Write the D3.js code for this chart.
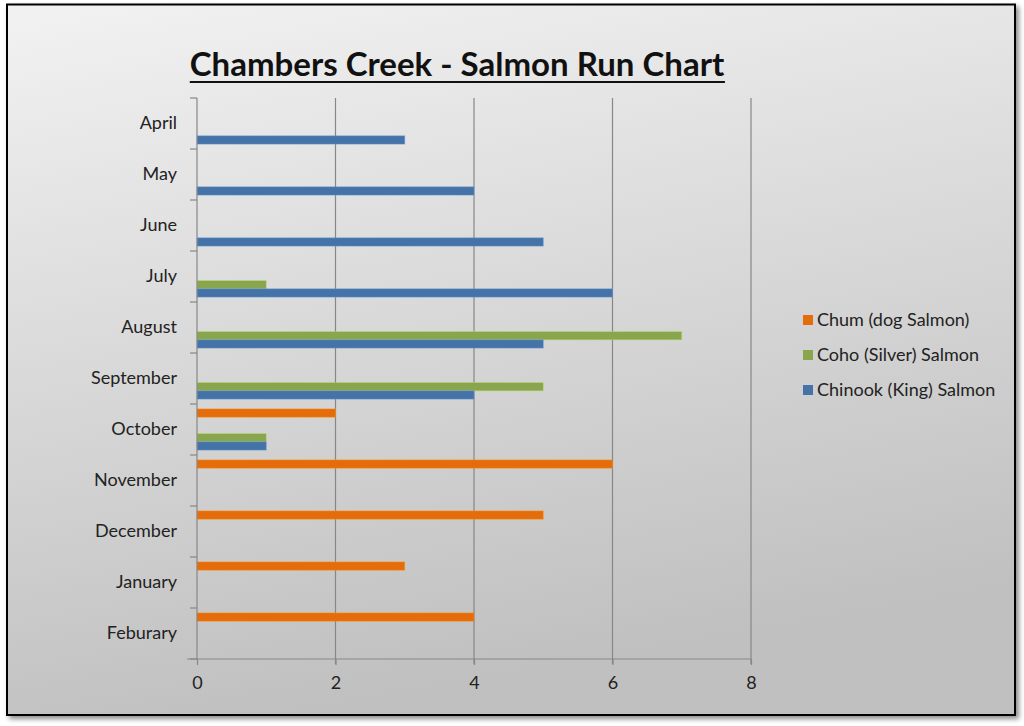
<!DOCTYPE html>
<html><head><meta charset="utf-8">
<script src="https://cdn.jsdelivr.net/npm/d3@7"></script>
<style>html,body{margin:0;padding:0;background:#fff;}svg{display:block;}</style>
</head><body>
<script>
const months = ["April","May","June","July","August","September","October","November","December","January","Feburary"];
const chinook = [3,4,5,6,5,4,1,0,0,0,0];
const coho    = [0,0,0,1,7,5,1,0,0,0,0];
const chum    = [0,0,0,0,0,0,2,6,5,3,4];
const seriesNames = ["Chum (dog Salmon)","Coho (Silver) Salmon","Chinook (King) Salmon"];
const seriesColors = ["#E46C0A","#89A54E","#4572A7"];
const slots = ["s1","s2","s3","s4","s5"]; // Excel slots, two unused series
const seriesSlots = ["s1","s4","s5"];
const xTicks = [0,2,4,6,8];

const W=1024,H=726;
const svg=d3.select("body").append("svg").attr("width",W).attr("height",H);
const defs=svg.append("defs");
const g1=defs.append("linearGradient").attr("id","bg").attr("x1",0).attr("y1",0).attr("x2",0.25).attr("y2",1);
g1.append("stop").attr("offset","0%").attr("stop-color","#f2f2f2");
g1.append("stop").attr("offset","100%").attr("stop-color","#c0c0c0");
const f=defs.append("filter").attr("id","sh").attr("x","-5%").attr("y","-5%").attr("width","110%").attr("height","110%");
f.append("feDropShadow").attr("dx",3).attr("dy",3).attr("stdDeviation",2.5).attr("flood-color","#000").attr("flood-opacity",0.45);

svg.append("rect").attr("x",7).attr("y",4.5).attr("width",1008).attr("height",710.5)
  .attr("fill","url(#bg)").attr("stroke","#000").attr("stroke-width",2).attr("filter","url(#sh)");

const font="Lato, 'Open Sans', sans-serif";
const x=d3.scaleLinear().domain([0,8]).range([197,751]);
const y=d3.scaleBand().domain(months).range([98,659]).padding(0);
const ys=d3.scaleBand().domain(slots).range([0,y.bandwidth()]).paddingOuter(0.6).paddingInner(0);

// gridlines
const grid=svg.append("g");
grid.selectAll("line").data(xTicks.slice(1)).join("line")
  .attr("x1",d=>x(d)).attr("x2",d=>x(d)).attr("y1",98).attr("y2",664)
  .attr("stroke","#878787").attr("stroke-width",1.2);

// bars
const series=[chum,coho,chinook];
series.forEach((vals,si)=>{
  svg.append("g").selectAll("rect").data(months.map((m,i)=>({m,v:vals[i]})).filter(d=>d.v>0)).join("rect")
    .attr("x",x(0)).attr("y",d=>y(d.m)+ys(seriesSlots[si]))
    .attr("width",d=>x(d.v)-x(0)).attr("height",ys.bandwidth())
    .attr("fill",seriesColors[si]).attr("stroke",d3.color(seriesColors[si]).brighter(0.8)).attr("stroke-opacity",0.6).attr("stroke-width",0.8);
});

// y axis
const yAxis=d3.axisLeft(y).tickSize(0).tickPadding(20);
const ya=svg.append("g").attr("transform","translate(197,0)").call(yAxis);
ya.select(".domain").remove();
ya.selectAll("text").attr("font-family",font).attr("font-size",18).attr("fill","#222");
const yl=svg.append("g");
yl.append("line").attr("x1",197).attr("x2",197).attr("y1",98).attr("y2",659).attr("stroke","#878787").attr("stroke-width",1.2);
yl.selectAll(".t").data(d3.range(months.length+1)).join("line").attr("class","t")
  .attr("x1",190).attr("x2",197).attr("y1",i=>98+i*y.step()).attr("y2",i=>98+i*y.step())
  .attr("stroke","#878787").attr("stroke-width",1.2);

// x axis
const xAxis=d3.axisBottom(x).tickValues(xTicks).tickSize(6).tickPadding(11).tickFormat(d3.format("d"));
const xa=svg.append("g").attr("transform","translate(0,659)").call(xAxis);
xa.select(".domain").attr("d","M187,0H751").attr("stroke","#878787").attr("stroke-width",1.2);
xa.selectAll(".tick line").attr("stroke","#878787").attr("stroke-width",1.2);
xa.selectAll("text").attr("font-family",font).attr("font-size",18).attr("fill","#222");

// title
const title=svg.append("text").attr("x",457).attr("y",76).attr("text-anchor","middle")
  .attr("font-family",font).attr("font-weight","bold").attr("font-size",33).attr("fill","#111")
  .text("Chambers Creek - Salmon Run Chart");
const bb=title.node().getBBox();
svg.append("line").attr("x1",bb.x).attr("x2",bb.x+bb.width).attr("y1",82).attr("y2",82).attr("stroke","#111").attr("stroke-width",2);

// legend
const lg=svg.append("g");
seriesNames.forEach((n,i)=>{
  const yy=320+i*35;
  lg.append("rect").attr("x",803).attr("y",yy-5).attr("width",10).attr("height",10).attr("fill",seriesColors[i]);
  lg.append("text").attr("x",817).attr("y",yy).attr("dy","0.35em").attr("font-family",font).attr("font-size",18).attr("fill","#222").text(n);
});
</script>
</body></html>
